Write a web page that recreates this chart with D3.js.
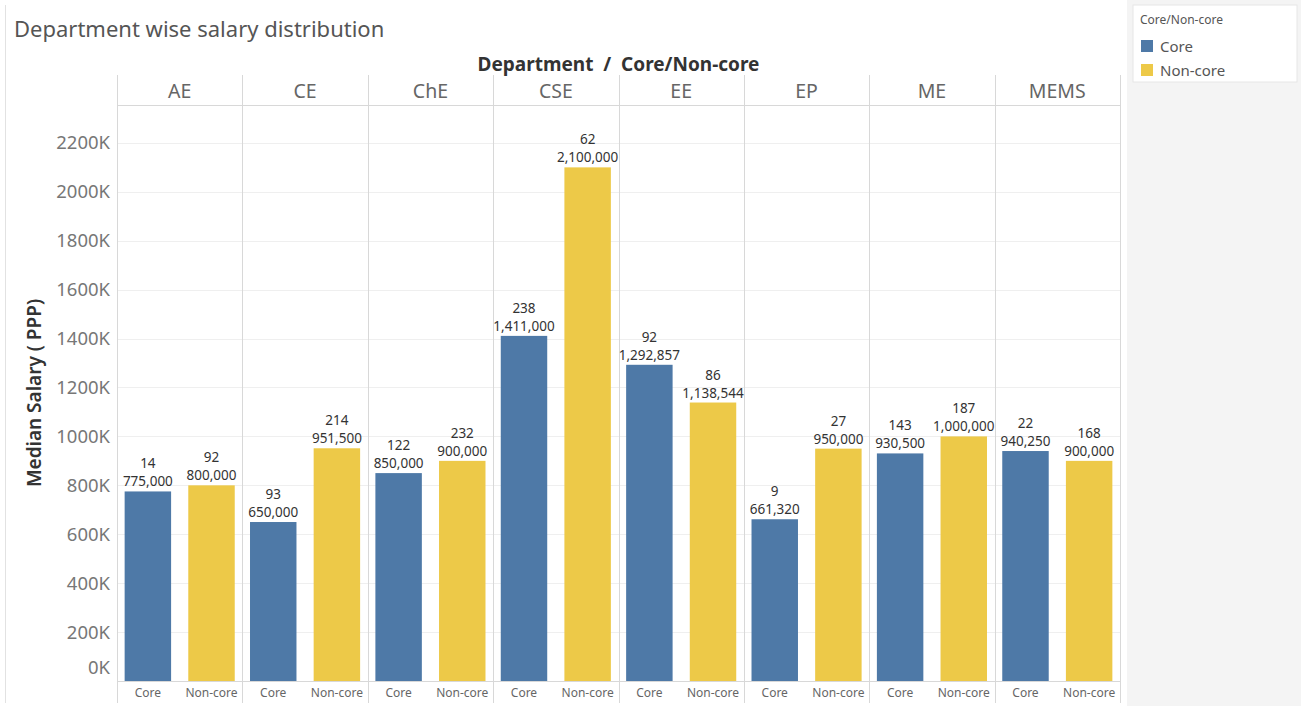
<!DOCTYPE html>
<html>
<head>
<meta charset="utf-8">
<script src="https://cdn.jsdelivr.net/npm/d3@7/dist/d3.min.js"></script>
<style>
  html, body { margin: 0; padding: 0; background: #fff; }
  svg { display: block; font-family: "Noto Sans", "Open Sans", sans-serif; }
  .pre { white-space: pre; }
</style>
</head>
<body>
<svg id="chart" width="1301" height="706"></svg>
<script>
// Departments and their core / non-core placement figures
const departments = ["AE", "CE", "ChE", "CSE", "EE", "EP", "ME", "MEMS"];
const groups = ["Core", "Non-core"];
const coreSalary = [775000, 650000, 850000, 1411000, 1292857, 661320, 930500, 940250];
const coreCount = [14, 93, 122, 238, 92, 9, 143, 22];
const nonCoreSalary = [800000, 951500, 900000, 2100000, 1138544, 950000, 1000000, 900000];
const nonCoreCount = [92, 214, 232, 62, 86, 27, 187, 168];
const yTicks = [0, 200000, 400000, 600000, 800000, 1000000, 1200000, 1400000,
                1600000, 1800000, 2000000, 2200000];

const colors = { "Core": "#4e79a7", "Non-core": "#edc948" };

const svg = d3.select("#chart");
const W = 1301, H = 706;

const plot = { left: 117, right: 1120, top: 105, bottom: 681, headerTop: 75, axisBottom: 703 };

// right-hand legend shelf
svg.append("rect").attr("x", 1127).attr("y", 0).attr("width", W - 1127).attr("height", H)
  .attr("fill", "#f4f4f4");
svg.append("rect").attr("x", 1133).attr("y", 5).attr("width", 164).attr("height", 77)
  .attr("fill", "#fff").attr("stroke", "#e6e6e6");
svg.append("text").attr("x", 1140).attr("y", 24).attr("font-size", 12).attr("fill", "#555")
  .text("Core/Non-core");
groups.forEach((g, i) => {
  const y = 47 + i * 24;
  svg.append("rect").attr("x", 1141).attr("y", y - 7).attr("width", 12).attr("height", 12)
    .attr("fill", colors[g]);
  svg.append("text").attr("x", 1160).attr("y", y + 5).attr("font-size", 15).attr("fill", "#555")
    .text(g);
});

// left border of the sheet
svg.append("line").attr("x1", 5.5).attr("x2", 5.5).attr("y1", 5).attr("y2", 703)
  .attr("stroke", "#e2e2e2");

// title
svg.append("text").attr("x", 14).attr("y", 37).attr("font-size", 22).attr("fill", "#555")
  .text("Department wise salary distribution");

// header caption
svg.append("text").attr("class", "pre").attr("x", (plot.left + plot.right) / 2).attr("y", 71)
  .attr("text-anchor", "middle").attr("font-size", 19).attr("font-weight", "bold")
  .attr("fill", "#333").text("Department  /  Core/Non-core");

const xDept = d3.scaleBand().domain(departments).range([plot.left, plot.right]);
const xGroup = d3.scaleBand().domain(groups).range([0, xDept.bandwidth()])
  .paddingInner(0.27).paddingOuter(0.12);

const y = d3.scaleLinear().domain([0, 2355000]).range([plot.bottom, plot.top]);

// gridlines
svg.append("g").selectAll("line").data(yTicks.filter(d => d > 0)).join("line")
  .attr("x1", plot.left).attr("x2", plot.right)
  .attr("y1", d => Math.round(y(d)) + 0.5).attr("y2", d => Math.round(y(d)) + 0.5)
  .attr("stroke", "#efefef");

// y axis
const yAxis = d3.axisLeft(y).tickValues(yTicks).tickSize(0).tickPadding(7)
  .tickFormat(d => d3.format("d")(d / 1000) + "K");
const gy = svg.append("g").attr("transform", `translate(${plot.left},0)`).call(yAxis);
gy.select(".domain").remove();
gy.selectAll("text").attr("font-size", 18.5).attr("fill", "#777")
  .attr("font-family", "\"Noto Sans\", sans-serif");
// lowest label sits just above the baseline
gy.selectAll(".tick").filter(d => d === 0).select("text").attr("dy", "-0.4em");

svg.append("text")
  .attr("transform", `translate(41,${(plot.top + plot.bottom) / 2}) rotate(-90)`)
  .attr("text-anchor", "middle").attr("font-size", 19).attr("font-weight", 600)
  .attr("fill", "#333").text("Median Salary ( PPP)");

// department headers
const hdr = svg.append("g");
hdr.selectAll("text").data(departments).join("text")
  .attr("x", d => xDept(d) + xDept.bandwidth() / 2).attr("y", 98)
  .attr("text-anchor", "middle").attr("font-size", 19.5).attr("fill", "#666")
  .text(d => d);
svg.append("line").attr("x1", plot.left).attr("x2", plot.right)
  .attr("y1", plot.top + 0.5).attr("y2", plot.top + 0.5).attr("stroke", "#d8d8d8");

// panel separators
const seps = departments.map(d => xDept(d)).concat([plot.right]);
svg.append("g").selectAll("line").data(seps).join("line")
  .attr("x1", d => Math.round(d) + 0.5).attr("x2", d => Math.round(d) + 0.5)
  .attr("y1", plot.headerTop).attr("y2", plot.axisBottom)
  .attr("stroke", "#d8d8d8");

// baseline
svg.append("line").attr("x1", plot.left).attr("x2", plot.right)
  .attr("y1", plot.bottom + 0.5).attr("y2", plot.bottom + 0.5).attr("stroke", "#d8d8d8");

// bars
const rows = [];
departments.forEach((d, i) => {
  rows.push({ dept: d, group: "Core", value: coreSalary[i], count: coreCount[i] });
  rows.push({ dept: d, group: "Non-core", value: nonCoreSalary[i], count: nonCoreCount[i] });
});

const barG = svg.append("g");
barG.selectAll("rect").data(rows).join("rect")
  .attr("x", d => xDept(d.dept) + xGroup(d.group))
  .attr("width", xGroup.bandwidth())
  .attr("y", d => y(d.value))
  .attr("height", d => y(0) - y(d.value))
  .attr("fill", d => colors[d.group]);

// value labels: count on top, salary beneath
const fmt = d3.format(",");
const lab = svg.append("g").attr("font-size", 13.5).attr("fill", "#333").attr("text-anchor", "middle");
lab.selectAll("text.cnt").data(rows).join("text").attr("class", "cnt")
  .attr("x", d => xDept(d.dept) + xGroup(d.group) + xGroup.bandwidth() / 2)
  .attr("y", d => y(d.value) - 23)
  .text(d => d.count);
lab.selectAll("text.val").data(rows).join("text").attr("class", "val")
  .attr("x", d => xDept(d.dept) + xGroup(d.group) + xGroup.bandwidth() / 2)
  .attr("y", d => y(d.value) - 5)
  .text(d => fmt(d.value));

// group labels along the bottom
svg.append("g").selectAll("text").data(rows).join("text")
  .attr("x", d => xDept(d.dept) + xGroup(d.group) + xGroup.bandwidth() / 2)
  .attr("y", 697).attr("text-anchor", "middle").attr("font-size", 12).attr("fill", "#666")
  .text(d => d.group);
</script>
</body>
</html>
